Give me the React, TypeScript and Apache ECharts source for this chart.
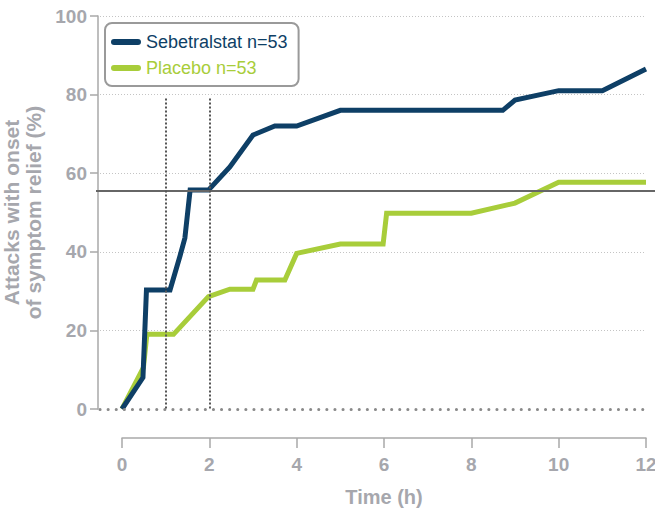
import React, { useEffect, useRef } from "react";
import * as echarts from "echarts";

const SEBETRALSTAT_NAME = "Sebetralstat n=53";
const PLACEBO_NAME = "Placebo n=53";

const sebetralstat: [number, number][] = [
  [0, 0], [0.48, 8], [0.56, 30.3], [1.1, 30.3], [1.33, 39], [1.44, 43.5],
  [1.56, 55.7], [1.98, 55.7], [2.47, 61.6], [3.0, 69.7], [3.5, 72], [4.0, 72],
  [5.0, 76], [8.72, 76], [9.0, 78.6], [10.0, 81], [11.0, 81], [12.0, 86.5],
];

const placebo: [number, number][] = [
  [0, 0], [0.49, 10.5], [0.57, 19], [1.18, 19], [1.98, 28.6], [2.47, 30.5],
  [3.0, 30.5], [3.08, 32.8], [3.73, 32.8], [4.0, 39.6], [5.0, 42], [5.98, 42],
  [6.06, 49.8], [8.0, 49.8], [9.0, 52.4], [10.0, 57.7], [12.0, 57.7],
];

const REF_LINE = 55.5;
const VERTICAL_LINES = [1, 2];
const VERTICAL_TOP = 79;

const X_MIN = 0, X_MAX = 12, X_STEP = 2;
const Y_MIN = 0, Y_MAX = 100, Y_STEP = 20;

const NAVY = "#0e3f66";
const GREEN = "#a8cd3a";
const GRAY_TEXT = "#a6a7ad";
const AXIS_GRAY = "#a9a9a9";
const FONT = "'Liberation Sans Narrow', 'Arial Narrow', 'Liberation Sans', Arial, sans-serif";

const CAPSULE = "path://M3,0 L27,0 A3,3 0 0 1 27,6 L3,6 A3,3 0 0 1 3,0 Z";

export default function App() {
  const ref = useRef<HTMLDivElement>(null);
  useEffect(() => {
    if (!ref.current) return;
    const chart = echarts.init(ref.current, undefined, { renderer: "svg" });
    const gridTop = 16, gridBottom = 103;
    chart.setOption({
      animation: false,
      grid: [
        { left: 122, right: 9, top: gridTop, bottom: gridBottom, outerBoundsMode: "none", containLabel: false },
        { left: 100, right: 10, top: gridTop, bottom: gridBottom, outerBoundsMode: "none", containLabel: false },
        { left: 96, right: 0, top: gridTop, bottom: gridBottom, outerBoundsMode: "none", containLabel: false },
      ],
      legend: {
        orient: "vertical",
        left: 105,
        top: 23,
        padding: [10, 11, 9, 6],
        itemGap: 8,
        itemWidth: 30,
        itemHeight: 6,
        itemTextGap: 12,
        borderColor: "#9a9a9a",
        borderWidth: 2,
        borderRadius: 7,
        textStyle: { fontFamily: FONT, fontSize: 18 },
        data: [
          { name: SEBETRALSTAT_NAME, icon: CAPSULE, textStyle: { color: NAVY } },
          { name: PLACEBO_NAME, icon: CAPSULE, textStyle: { color: GREEN } },
        ],
      },
      xAxis: [
        {
          gridIndex: 0,
          type: "value",
          min: X_MIN,
          max: X_MAX,
          interval: X_STEP,
          offset: 29,
          name: "Time (h)",
          nameLocation: "middle",
          nameGap: 49,
          nameTextStyle: { color: GRAY_TEXT, fontFamily: FONT, fontSize: 20, fontWeight: "bold" },
          axisLine: { show: true, onZero: false, lineStyle: { color: AXIS_GRAY, width: 1.5 } },
          axisTick: { show: true, length: 10, lineStyle: { color: AXIS_GRAY, width: 1.5 } },
          axisLabel: { color: GRAY_TEXT, fontFamily: FONT, fontSize: 19, fontWeight: "bold", margin: 17 },
          splitLine: { show: false },
        },
        { gridIndex: 1, type: "value", min: X_MIN, max: X_MAX, show: false },
        { gridIndex: 2, type: "value", min: X_MIN, max: X_MAX, show: false },
      ],
      yAxis: [
        {
          gridIndex: 0,
          type: "value",
          min: Y_MIN,
          max: Y_MAX,
          interval: Y_STEP,
          offset: 24,
          name: "Attacks with onset\nof symptom relief (%)",
          nameLocation: "middle",
          nameGap: 36,
          nameTextStyle: { color: GRAY_TEXT, fontFamily: FONT, fontSize: 21, fontWeight: "bold", lineHeight: 22 },
          axisLine: { show: true, onZero: false, lineStyle: { color: AXIS_GRAY, width: 1.5 } },
          axisTick: { show: true, length: 8, lineStyle: { color: AXIS_GRAY, width: 1.5 } },
          axisLabel: { color: GRAY_TEXT, fontFamily: FONT, fontSize: 19, fontWeight: "bold", margin: 11 },
          splitLine: { show: false },
        },
        {
          gridIndex: 1,
          type: "value",
          min: Y_MIN,
          max: Y_MAX,
          interval: Y_STEP,
          axisLine: { show: false },
          axisTick: { show: false },
          axisLabel: { show: false },
          splitLine: {
            show: true,
            lineStyle: { color: ["transparent", "#c4c4c4", "#c4c4c4", "#c4c4c4", "#c4c4c4", "#c4c4c4"], width: 1, type: [1, 2] },
          },
        },
        { gridIndex: 2, type: "value", min: Y_MIN, max: Y_MAX, show: false },
      ],
      series: [
        {
          name: "zero",
          type: "line",
          xAxisIndex: 1,
          yAxisIndex: 1,
          data: [],
          silent: true,
          markLine: {
            silent: true,
            symbol: "none",
            label: { show: false },
            lineStyle: { color: "#8a8a8a", width: 3, type: [0.1, 8], cap: "round" },
            data: [{ yAxis: 0 }],
          },
        },
        {
          name: "ref",
          type: "line",
          xAxisIndex: 2,
          yAxisIndex: 2,
          data: [],
          silent: true,
          markLine: {
            silent: true,
            symbol: "none",
            label: { show: false },
            lineStyle: { color: "#666666", width: 2, type: "solid" },
            data: [{ yAxis: REF_LINE }],
          },
        },
        {
          name: PLACEBO_NAME,
          type: "line",
          data: placebo,
          showSymbol: false,
          symbol: "none",
          color: GREEN,
          lineStyle: { color: GREEN, width: 5, join: "miter" },
          markLine: {
            silent: true,
            symbol: "none",
            label: { show: false },
            lineStyle: { color: "#555555", width: 2, type: [2, 2] },
            data: VERTICAL_LINES.map((v) => [
              { coord: [v, VERTICAL_TOP] },
              { coord: [v, Y_MIN] },
            ]),
          },
        },
        {
          name: SEBETRALSTAT_NAME,
          type: "line",
          data: sebetralstat,
          showSymbol: false,
          symbol: "none",
          color: NAVY,
          lineStyle: { color: NAVY, width: 5, join: "miter" },
        },
      ],
    });
    return () => chart.dispose();
  }, []);
  return <div ref={ref} style={{ width: 655, height: 512, position: "absolute", left: 0, top: 0 }} />;
}
